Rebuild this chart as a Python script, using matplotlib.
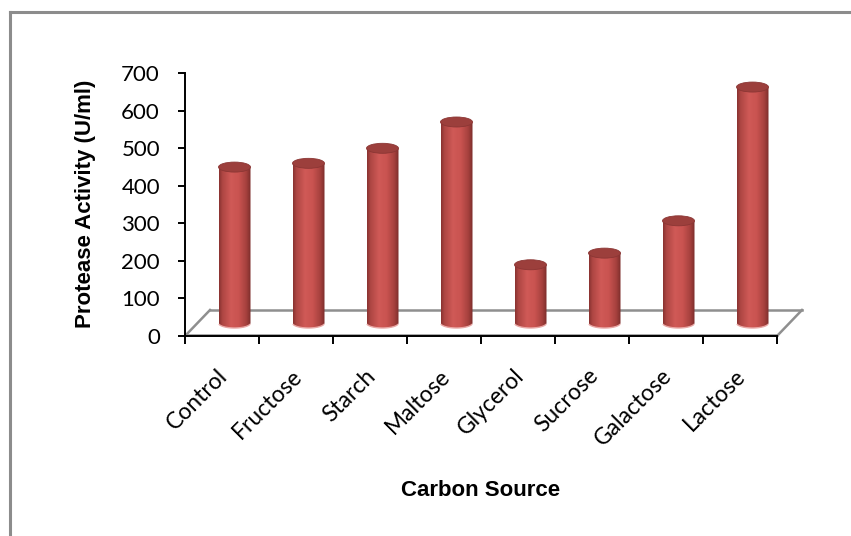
import numpy as np
import matplotlib
matplotlib.use("Agg")
import matplotlib.pyplot as plt
from matplotlib.patches import Ellipse, PathPatch
from matplotlib.path import Path
from matplotlib.lines import Line2D
from matplotlib.colors import LinearSegmentedColormap
from matplotlib.transforms import ScaledTranslation

categories = ["Control", "Fructose", "Starch", "Maltose",
              "Glycerol", "Sucrose", "Galactose", "Lactose"]
activity = [415, 425, 465, 535, 155, 186, 272, 628]
y_ticks = [0, 100, 200, 300, 400, 500, 600, 700]

W, H = 851, 536
fig = plt.figure(figsize=(W / 100, H / 100), dpi=100)

# outer chart frame (open to the right/bottom edge of the canvas)
fig.add_artist(Line2D([9.5 / W, 9.5 / W], [0, 1 - 12 / H], transform=fig.transFigure,
                      color="#8c8c8c", lw=2.2))
fig.add_artist(Line2D([9.5 / W, 1], [1 - 12 / H, 1 - 12 / H], transform=fig.transFigure,
                      color="#8c8c8c", lw=2.2))

x0, x1, y0, y1 = 185, 777, 336, 73
ax = fig.add_axes([x0 / W, (H - y0) / H, (x1 - x0) / W, (y0 - y1) / H])
ax.set_xlim(-0.5, len(categories) - 0.5)
ax.set_ylim(0, 700)
ax.set_autoscale_on(False)

px_x = (x1 - x0) / len(categories)      # pixels per category
px_y = (y0 - y1) / 700.0                # pixels per unit

# oblique depth of the floor
dx_back = 25 / px_x
dy_back = 26 / px_y
dx_mid = dx_back / 2
dy_mid = dy_back / 2

floor_col = "#8f8f8f"
n = len(categories)
for xs, ys in [((-0.5 + dx_back, n - 0.5 + dx_back), (dy_back, dy_back)),
               ((-0.5, -0.5 + dx_back), (0, dy_back)),
               ((n - 0.5, n - 0.5 + dx_back), (0, dy_back)),
               ((-0.5, n - 0.5), (1.5, 1.5))]:
    ax.add_line(Line2D(xs, ys, color=floor_col, lw=1.8, clip_on=False, zorder=1))

# cylinder shading across the bar width
shade = LinearSegmentedColormap.from_list(
    "cyl", [(0.0, "#8a3331"), (0.1, "#ad4643"), (0.38, "#d05a57"),
            (0.62, "#c95350"), (0.86, "#a6413e"), (1.0, "#7c2d2b")])
grad = shade(np.linspace(0, 1, 64))[np.newaxis, :, :3]

hw = 16 / px_x
ry = 5 / px_y
t = np.linspace(np.pi, 2 * np.pi, 40)

for i, v in enumerate(activity):
    cx = i + dx_mid
    base = dy_mid
    top = base + v
    verts = [(cx - hw, top)]
    verts += [(cx + hw * np.cos(a), base + ry * np.sin(a)) for a in t]
    verts += [(cx + hw, top), (cx - hw, top)]
    codes = [Path.MOVETO] + [Path.LINETO] * (len(verts) - 2) + [Path.CLOSEPOLY]
    body = PathPatch(Path(verts, codes), fc="none", ec="none", zorder=3, clip_on=False)
    ax.add_patch(body)
    im = ax.imshow(grad, extent=[cx - hw, cx + hw, base - ry, top],
                   aspect="auto", interpolation="bilinear", zorder=3)
    im.set_clip_path(body)
    # light rim along the base
    ax.plot(cx + hw * np.cos(t[4:-4]), base + ry * np.sin(t[4:-4]),
            color="#e9a7a5", lw=1.0, zorder=4, clip_on=False)
    ax.add_patch(Ellipse((cx, top), 2 * hw, 2 * ry, fc="#9c3f3c", ec="#8b3634",
                         lw=0.6, zorder=5, clip_on=False))

ax.set_xlim(-0.5, n - 0.5)
ax.set_ylim(0, 700)

for side in ("top", "right"):
    ax.spines[side].set_visible(False)
for side in ("left", "bottom"):
    ax.spines[side].set_color("black")
    ax.spines[side].set_linewidth(1.4)
    ax.spines[side].set_zorder(6)

ytick_font = {"family": "Lato", "size": 16}
xtick_font = {"family": "Lato", "size": 16.5}
ax.set_yticks(y_ticks)
ax.set_yticklabels([str(v) for v in y_ticks], fontdict=ytick_font)
ax.tick_params(axis="y", direction="out", length=5, width=1.4, pad=13)

ax.set_xticks(np.arange(-0.5, n, 1.0))
ax.set_xticklabels([])
ax.tick_params(axis="x", which="major", direction="out", length=6, width=1.4)
ax.set_xticks(np.arange(n), minor=True)
ax.set_xticklabels(categories, minor=True, rotation=45, ha="right",
                   rotation_mode="anchor", fontdict=xtick_font)
ax.tick_params(axis="x", which="minor", length=0, pad=21)
shift = ScaledTranslation(-5 / 100, 0, fig.dpi_scale_trans)
for lbl in ax.get_xticklabels(minor=True):
    lbl.set_transform(lbl.get_transform() + shift)

title_font = {"family": "Liberation Sans", "weight": "bold", "size": 16}
fig.text(85 / W, 1 - 204 / H, "Protease Activity (U/ml)", rotation=90,
         ha="center", va="center", fontdict=title_font)
fig.text(481 / W, 1 - 490 / H, "Carbon Source", ha="center", va="center",
         fontdict=title_font)

fig.savefig("out.png", dpi=100, facecolor="white")
